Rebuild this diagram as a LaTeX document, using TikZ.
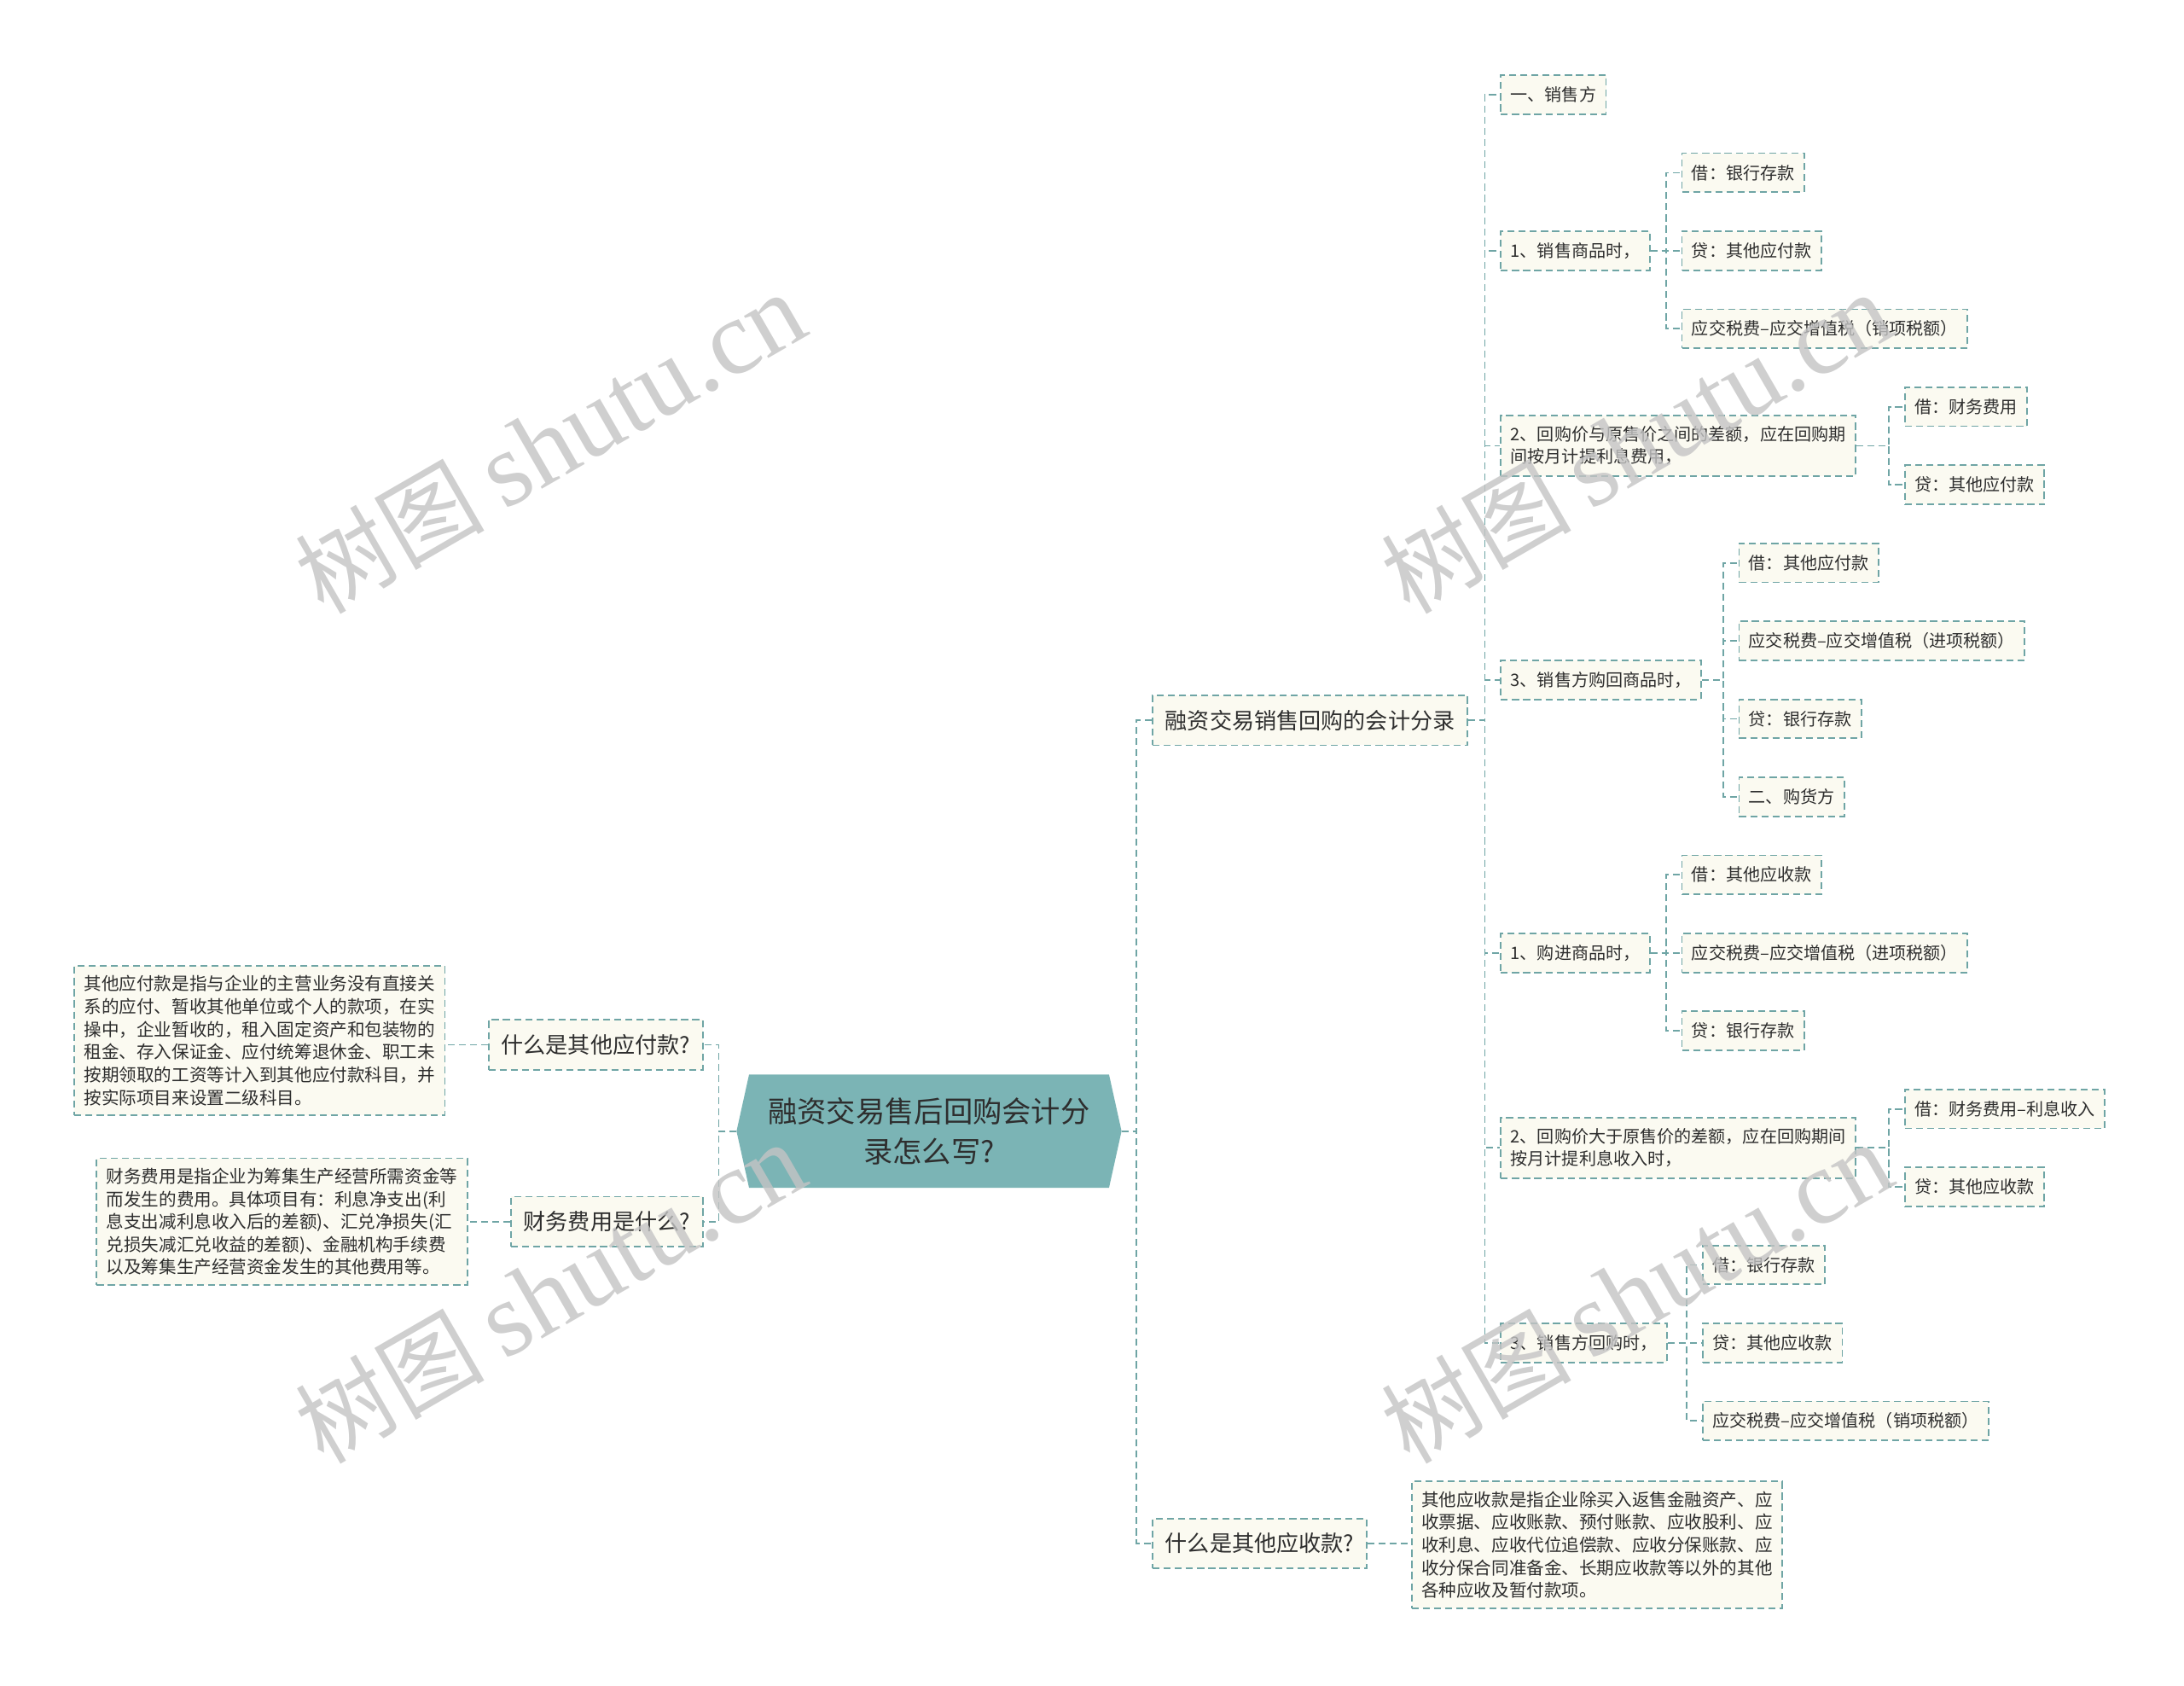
\documentclass[tikz,border=0pt]{standalone}
\usepackage{fontspec}
\setmainfont{Noto Sans CJK SC}
\newfontfamily\wmcjk{Noto Sans CJK SC}
\newfontfamily\wmlat{Liberation Serif}
\usetikzlibrary{backgrounds}
\definecolor{lineteal}{HTML}{6FA5A5}
\definecolor{nodefill}{HTML}{FBFAF1}
\definecolor{rootfill}{HTML}{7BB4B5}
\definecolor{txt}{HTML}{2E2E2E}
\definecolor{wmgray}{HTML}{C4C4C4}
\tikzset{
  conn/.style={draw=lineteal, line width=1.1pt, dash pattern=on 5pt off 3pt},
  box/.style={draw=lineteal, fill=nodefill, line width=1.1pt, dash pattern=on 5pt off 3pt,
    text=txt, inner xsep=7pt, inner ysep=0pt, minimum height=28pt,
    font=\fontsize{12.3}{16}\selectfont, anchor=west},
  bigbox/.style={box, minimum height=36pt, inner xsep=9pt, font=\fontsize{16}{20}\selectfont},
  parabox/.style={box, align=left, inner ysep=7pt, font=\fontsize{12.6}{16.3}\selectfont},
  twoline/.style={box, align=left, inner ysep=8pt, font=\fontsize{12.3}{16}\selectfont},
  wm/.style={text=wmgray, opacity=0.8, rotate=30, inner sep=0pt}
}
\begin{document}
\begin{tikzpicture}[x=1pt,y=-1pt]
\useasboundingbox (0,0) rectangle (1568,1210);
\begin{scope}[on background layer]
\fill[white] (0,0) rectangle (1568,1210);
\end{scope}

% root
\node[minimum width=276pt, minimum height=81pt, inner sep=0pt, align=center,
      text=txt, font=\fontsize{21}{29}\selectfont] (root) at (667,812)
      {融资交易售后回购会计分\\录怎么写?};
\begin{scope}[on background layer]
\fill[rootfill] ([xshift=9pt]root.north west) -- ([xshift=-9pt]root.north east) -- (root.east)
  -- ([xshift=-9pt]root.south east) -- ([xshift=9pt]root.south west) -- (root.west) -- cycle;
\end{scope}

% left side
\node[bigbox, anchor=east] (A1) at (505,750) {什么是其他应付款?};
\node[bigbox, anchor=east] (A2) at (505,877) {财务费用是什么?};
\node[parabox, anchor=east] (A1d) at (320,747) {其他应付款是指与企业的主营业务没有直接关\\系的应付、暂收其他单位或个人的款项，在实\\操中，企业暂收的，租入固定资产和包装物的\\租金、存入保证金、应付统筹退休金、职工未\\按期领取的工资等计入到其他应付款科目，并\\按实际项目来设置二级科目。};
\node[parabox, anchor=east] (A2d) at (336,877) {财务费用是指企业为筹集生产经营所需资金等\\而发生的费用。具体项目有：利息净支出(利\\息支出减利息收入后的差额)、汇兑净损失(汇\\兑损失减汇兑收益的差额)、金融机构手续费\\以及筹集生产经营资金发生的其他费用等。};

% right level 1
\node[bigbox] (B1) at (827,517) {融资交易销售回购的会计分录};
\node[bigbox] (B2) at (827,1108) {什么是其他应收款?};
\node[parabox] (B2d) at (1013,1109) {其他应收款是指企业除买入返售金融资产、应\\收票据、应收账款、预付账款、应收股利、应\\收利息、应收代位追偿款、应收分保账款、应\\收分保合同准备金、长期应收款等以外的其他\\各种应收及暂付款项。};

% level 2
\node[box] (C1) at (1077,68) {一、销售方};
\node[box] (C2) at (1077,180) {1、销售商品时，};
\node[twoline] (C3) at (1077,320) {2、回购价与原售价之间的差额，应在回购期\\间按月计提利息费用，};
\node[box] (C4) at (1077,488) {3、销售方购回商品时，};
\node[box] (C5) at (1077,684) {1、购进商品时，};
\node[twoline] (C6) at (1077,824) {2、回购价大于原售价的差额，应在回购期间\\按月计提利息收入时，};
\node[box] (C7) at (1077,964) {3、销售方回购时，};

% level 3
\node[box] (D21) at (1207,124) {借：银行存款};
\node[box] (D22) at (1207,180) {贷：其他应付款};
\node[box] (D23) at (1207,236) {应交税费–应交增值税（销项税额）};
\node[box] (D31) at (1367,292) {借：财务费用};
\node[box] (D32) at (1367,348) {贷：其他应付款};
\node[box] (D41) at (1248,404) {借：其他应付款};
\node[box] (D42) at (1248,460) {应交税费–应交增值税（进项税额）};
\node[box] (D43) at (1248,516) {贷：银行存款};
\node[box] (D44) at (1248,572) {二、购货方};
\node[box] (D51) at (1207,628) {借：其他应收款};
\node[box] (D52) at (1207,684) {应交税费–应交增值税（进项税额）};
\node[box] (D53) at (1207,740) {贷：银行存款};
\node[box] (D61) at (1367,796) {借：财务费用–利息收入};
\node[box] (D62) at (1367,852) {贷：其他应收款};
\node[box] (D71) at (1222,908) {借：银行存款};
\node[box] (D72) at (1222,964) {贷：其他应收款};
\node[box] (D73) at (1222,1020) {应交税费–应交增值税（销项税额）};

% connectors
\begin{scope}[on background layer]
\foreach \c in {A1,A2} \draw[conn] (root.west) -| ([xshift=11pt]\c.east) -- (\c.east);
\draw[conn] (A1.west) -- (A1.west -| A1d.east);
\draw[conn] (A2.west) -- (A2.west -| A2d.east);
\foreach \c in {B1,B2} \draw[conn] (root.east) -| ([xshift=-11pt]\c.west) -- (\c.west);
\draw[conn] (B2.east) -- (B2.east -| B2d.west);
\foreach \c in {C1,C2,C3,C4,C5,C6,C7} \draw[conn] (B1.east) -| ([xshift=-11pt]\c.west) -- (\c.west);
\foreach \c in {D21,D22,D23} \draw[conn] (C2.east) -| ([xshift=-11pt]\c.west) -- (\c.west);
\foreach \c in {D31,D32} \draw[conn] (C3.east) -| ([xshift=-11pt]\c.west) -- (\c.west);
\foreach \c in {D41,D42,D43,D44} \draw[conn] (C4.east) -| ([xshift=-11pt]\c.west) -- (\c.west);
\foreach \c in {D51,D52,D53} \draw[conn] (C5.east) -| ([xshift=-11pt]\c.west) -- (\c.west);
\foreach \c in {D61,D62} \draw[conn] (C6.east) -| ([xshift=-11pt]\c.west) -- (\c.west);
\foreach \c in {D71,D72,D73} \draw[conn] (C7.east) -| ([xshift=-11pt]\c.west) -- (\c.west);
\end{scope}

% watermarks
\foreach \p [count=\i] in {(395,318),(1175,318),(395,928),(1175,928)}
  \node[wm] (wm\i) at \p {{\wmcjk\fontsize{68}{70}\selectfont 树图}\hspace{14pt}{\wmlat\fontsize{76}{78}\selectfont shutu.cn}};
\end{tikzpicture}
\end{document}
